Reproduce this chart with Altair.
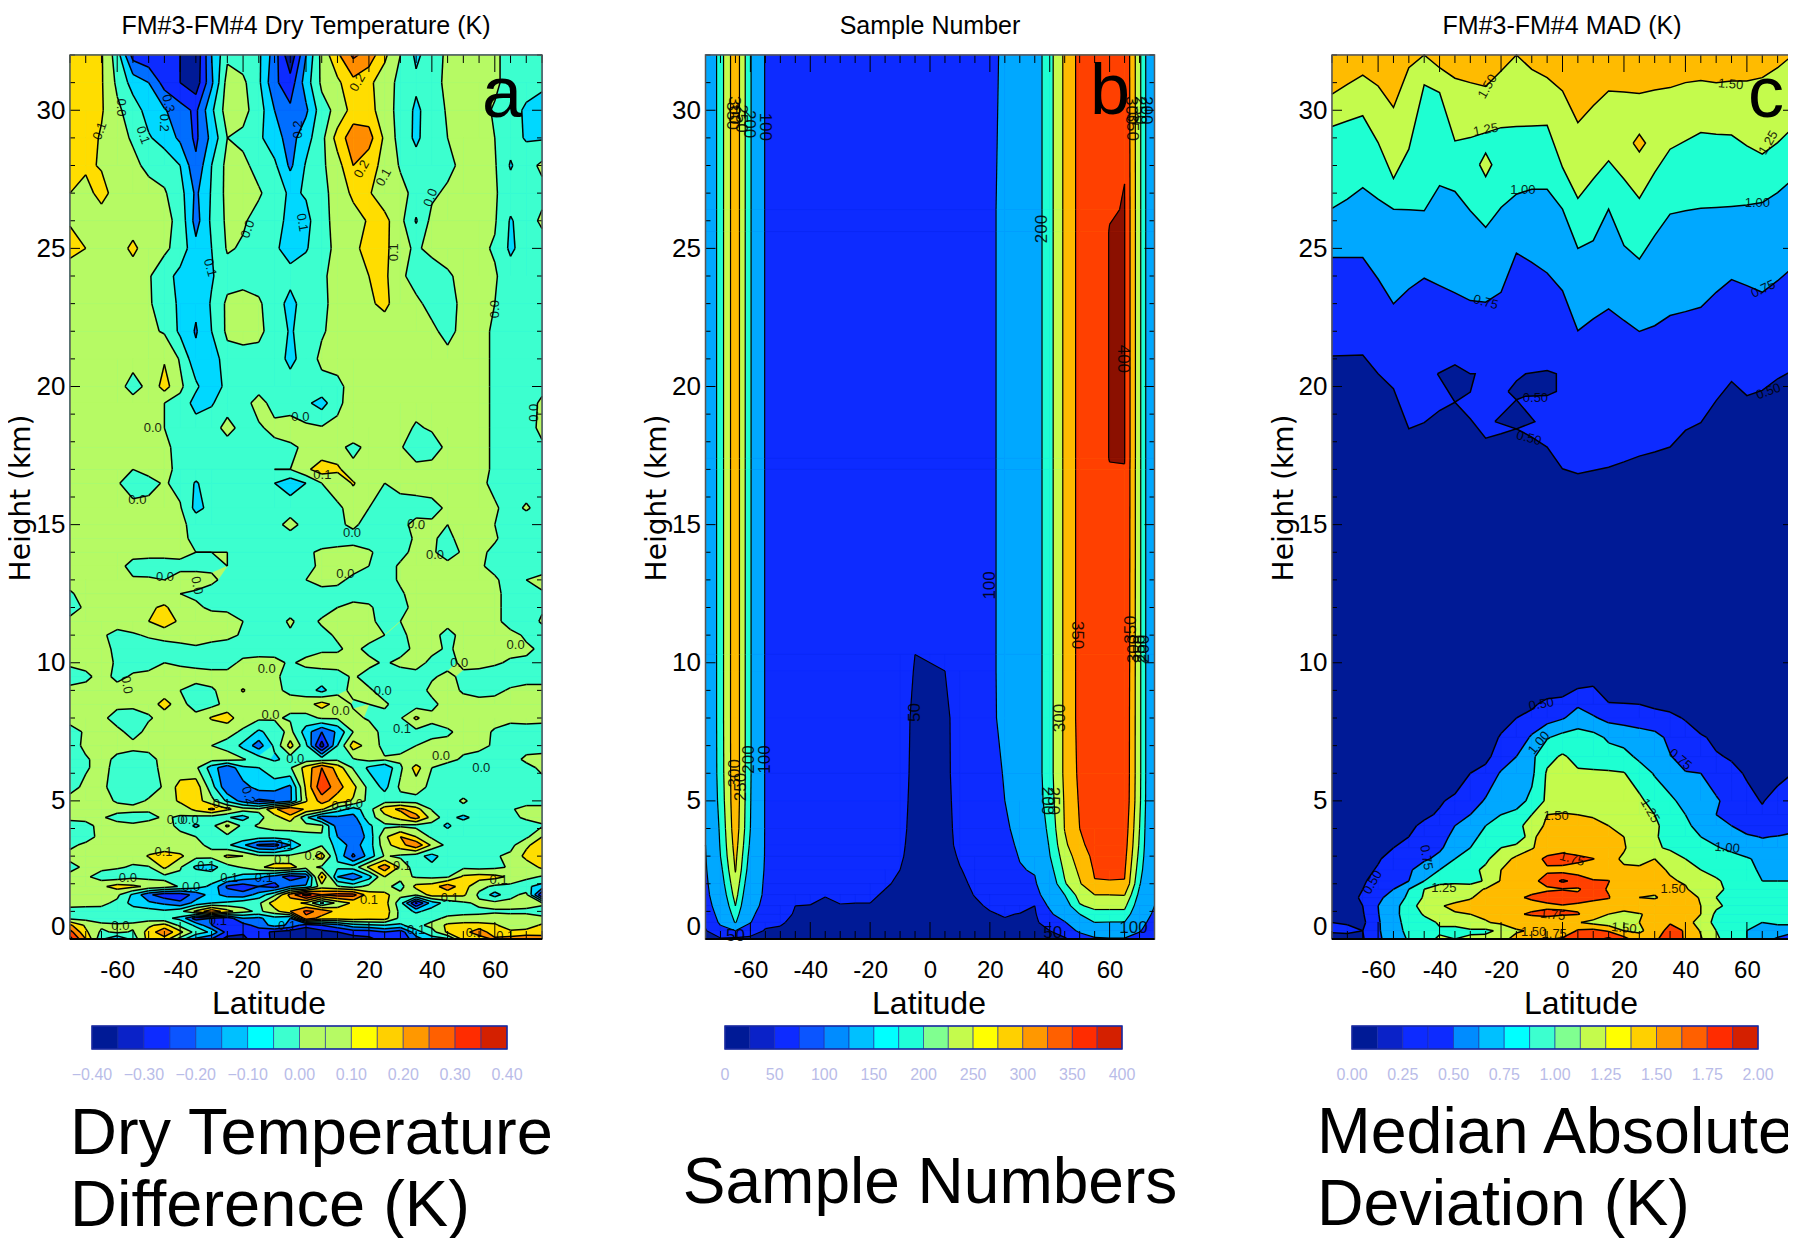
import altair as alt
import pandas as pd

alt.data_transformers.disable_max_rows()

W, H = 1780, 1230
SANS = "Liberation Sans, sans-serif"

LATS = list(range(-75, 80, 5))

# ---------- panel a : dry temperature difference, in hundredths of a kelvin ----------
A_HEIGHTS = [32,31,30,29,28,27,26,25,24,23,22,21,20,19.4,18.5,17.8,17,16.5,15.6,15,14.5,14,13.5,13,12.5,12,11.5,11,10.5,10,
             9.5,9,8.5,8,7.5,7,6.5,6.2,5.5,5,4.7,4.4,4.1,3.7,3.4,3,2.6,2.25,1.9,1.6,1.3,1,.75,.5,.25,0]
A_ROWS = [
[15,15,11,-5,-34,-38,-38,-40,-48,-20,-2,-5,-8,-25,-48,-20,3,18,32,26,12,0,-12,-5,2,3,3,2,-4,-5,-5],
[15,15,11,-2,-14,-20,-34,-40,-46,-22,4,2,-8,-28,-36,-15,2,8,17,12,5,-3,-8,-5,3,3,3,2,-4,-5,-8],
[15,14,11,2,-5,-14,-19,-26,-32,-12,5,3,-5,-20,-28,-22,-4,3,14,14,4,-3,-12,-5,1,4,3,-1,-5,-12,-14],
[20,14,9,3,-1,-9,-14,-22,-32,-17,0,-2,-8,-16,-24,-14,-3,14,26,24,8,-4,-12,-4,0,3,3,0,-6,-11,-11],
[14,12,9,4,2,-2,-4,-10,-28,-10,3,2,-3,-8,-22,-9,-2,6,20,14,7,-1,-6,-6,-3,3,3,1,-11,-4,2],
[10,6,14,5,4,3,1,-6,-22,-9,3,2,1,-4,-12,-9,-3,4,12,11,4,3,-3,-2,2,4,3,1,-5,-7,-3],
[9,5,4,4,3,3,3,-3,-24,-8,2,1,-3,-6,-13,-13,-3,3,6,11,13,3,-11,3,4,3,2,1,-11,-5,2],
[14,10,5,4,13,3,2,-4,-17,-10,1,-1,-3,-8,-15,-11,-3,2,8,13,13,2,-1,2,3,3,2,-1,-12,-5,-5],
[3,4,4,3,3,1,-6,-13,-16,-11,-4,-3,-3,-6,-6,-4,-1,2,5,10,12,2,-4,-4,-1,2,3,1,-5,-5,-5],
[3,3,3,3,3,1,-4,-12,-18,-9,2,3,1,-4,-14,-4,-2,3,4,8,13,3,2,-3,-3,2,3,0,-5,-5,-5],
[3,3,3,3,3,2,-1,-12,-21,-10,2,3,2,-4,-11,-6,-1,3,10,4,3,3,3,2,-3,3,2,-1,-5,-5,-5],
[3,3,3,3,3,3,9,-1,-17,-16,-4,-3,-3,-4,-13,-5,2,3,3,3,3,3,3,3,3,3,2,-1,-5,-5,-5],
[3,3,3,3,-3,2,14,2,-8,-18,-6,-5,-3,-3,-5,-4,-3,-2,3,3,3,3,3,3,3,3,2,-1,-5,-5,-3],
[3,3,3,3,3,3,0,-3,-14,-11,-4,-3,3,-3,-3,-8,-14,-3,6,3,3,3,3,3,3,3,2,-1,-5,-5,2],
[3,3,3,3,1,0,0,-1,-5,-4,3,-3,-1,2,3,2,1,3,10,8,3,3,-1,1,2,3,2,-1,-5,-5,3],
[3,3,3,3,3,3,2,-3,-4,-4,-4,-4,-3,-2,-1,1,3,3,-3,3,3,1,-6,-4,2,3,2,-1,-5,-5,-2],
[3,3,3,3,0,3,3,-3,-5,-4,-4,-4,-2,0,0,8,15,12,3,3,3,3,3,3,3,3,2,-1,-3,-3,-1],
[3,3,3,1,-5,-3,1,-3,-11,-5,-4,-4,-3,-10,-16,-10,0,3,11,3,0,3,3,3,3,3,2,-2,-5,-4,-3],
[3,3,3,3,3,3,3,1,-13,-7,-4,-4,-4,-4,-4,-4,-3,-1,2,0,-4,-4,-3,-2,1,3,3,1,-3,1,-3],
[3,3,3,3,3,3,3,2,-3,-4,-4,-4,-4,-3,3,-3,-2,-1,1,-2,-4,-2,2,1,0,3,3,0,-4,-5,-5],
[3,3,3,3,3,3,3,2,-2,-4,-4,-4,-4,-4,-4,-4,-3,-3,-2,-4,-4,-3,1,1,-2,3,3,1,-4,-5,-5],
[3,3,3,3,3,3,3,2,0,0,0,-3,-4,-4,-4,-1,1,2,2,1,-3,-2,2,1,-3,1,2,-2,-5,-5,-5],
[3,3,3,3,-3,-4,-4,-2,-2,-2,0,-3,-4,-4,-4,-3,2,3,3,0,-3,1,3,3,2,1,1,-2,-5,-2,-5],
[3,3,3,3,1,1,0,3,3,2,-3,-4,-4,-4,-4,0,3,2,-2,-3,-3,1,3,3,0,0,1,1,-3,0,3],
[-1,3,3,3,3,3,2,0,-1,-4,-4,-4,-4,-4,-4,-4,-3,-3,-3,-3,-3,-1,3,2,1,1,0,2,-3,-5,-1],
[-5,2,3,3,3,8,12,3,1,-1,-1,-3,-3,-4,-3,-4,-3,0,2,1,-3,-2,2,3,1,3,2,2,-3,-5,-1],
[3,3,3,3,5,10,16,8,3,3,2,0,-3,-3,1,-3,1,3,3,2,-3,0,3,3,3,3,3,2,-3,-4,1],
[3,3,1,-2,-1,1,3,4,3,3,2,-1,-3,-3,-1,-3,-2,1,3,3,0,-2,3,3,-3,3,3,3,2,-1,-4],
[3,3,3,-2,-3,-4,-4,-3,-1,-3,-4,-4,-4,-3,-3,-3,-1,-1,2,-2,-4,-3,2,2,-1,2,3,3,2,1,-1],
[2,3,3,-1,-3,-4,0,-1,-2,-3,-3,2,3,2,-1,2,3,3,3,2,-1,2,3,-2,-3,2,3,1,-1,-1,-1],
[-5,-2,3,-2,1,3,3,3,3,3,3,3,2,1,-2,-4,-4,-3,1,-3,-4,-4,-3,-1,2,-2,-4,-4,-4,-4,-4],
[3,3,3,3,3,3,3,0,-3,-1,3,11,3,1,-1,-5,-13,-3,2,1,-3,-4,-4,2,3,-1,-3,-2,1,3,3],
[3,3,3,3,3,3,15,3,-4,-3,3,3,3,3,2,6,14,6,-1,0,1,-3,-5,-2,3,3,3,3,3,3,3],
[3,3,3,-5,-6,-1,3,3,3,11,15,3,2,1,-1,-3,1,1,2,-1,-2,-1,12,2,3,3,3,3,3,3,3],
[-3,1,3,3,-4,3,4,3,3,3,2,-1,-12,-5,3,-15,-30,-18,0,4,-3,-4,-3,-3,-1,2,3,-1,-5,-4,-5],
[-4,2,3,3,3,3,3,3,2,0,-2,-13,-25,-8,14,-8,-45,-10,15,6,-3,-3,0,3,2,2,2,-1,-4,-4,-4],
[-5,-1,3,-2,-5,-3,3,3,3,3,3,1,-5,-12,-6,-5,-4,-2,-1,3,1,2,3,2,2,-1,-3,-4,-4,2,3],
[-5,-1,3,-3,-5,-4,3,3,2,-15,-28,-12,-10,-2,-1,14,30,16,-1,-12,-18,-2,14,0,-3,-4,-3,-4,-4,-3,2],
[-3,2,2,-4,-5,-4,1,14,16,-6,-28,-24,-16,-16,-22,12,38,24,13,-3,-13,2,5,-3,-4,-4,-4,-4,-4,-4,-4],
[3,3,3,-1,-3,1,3,12,15,3,-12,-24,-32,-30,-22,9,24,15,9,-3,-4,-4,-4,-4,-3,1,-3,-4,-4,-4,-4],
[3,3,3,3,3,1,2,3,13,22,12,4,2,18,30,18,12,-5,-14,-5,16,22,14,-1,-3,-2,-3,-2,-1,3,3],
[3,3,1,-3,-5,-2,1,-1,-3,-5,-9,-14,-3,6,16,-8,-25,-22,-24,-4,6,14,24,6,-6,-13,-5,-3,-3,2,3],
[-5,-3,3,3,2,3,3,-2,-12,-3,12,-3,1,4,4,3,2,-25,-28,-12,-2,-2,-3,-4,-12,-3,-4,-6,-4,-5,-1],
[-5,-4,3,3,3,3,3,2,0,-1,-3,-3,-5,-6,-5,-2,-1,-20,-30,-16,8,20,10,-2,-4,-4,-4,-4,-4,-2,10],
[-2,2,3,3,3,3,3,3,2,-2,-8,-18,-32,-34,-20,-5,-1,-14,-24,-15,6,16,28,8,-3,-4,-4,-4,-3,8,16],
[3,3,3,3,3,11,15,12,3,3,12,10,2,2,2,3,15,-12,-32,-16,1,-2,-6,-14,-4,-2,-1,-1,2,13,18],
[-3,2,3,1,-1,-1,12,1,-12,-14,-4,1,8,14,14,4,-2,-8,-6,12,26,8,-6,-7,-3,-2,-3,-2,1,4,12],
[3,2,-5,-5,-2,-3,-3,-2,-3,-5,-8,-14,-18,-24,-36,-30,22,-20,-28,-14,10,3,-1,-2,-1,12,14,13,8,3,-1],
[3,1,8,14,12,8,5,-1,-6,-12,-32,-36,-30,-34,-20,-18,6,1,-4,3,3,-4,13,15,26,14,3,-2,-3,-8,-14],
[3,3,3,2,-12,-28,-36,-36,-26,-16,-24,-26,-16,-2,24,45,30,34,34,14,13,3,1,14,13,12,-2,-14,-3,3,-40],
[2,3,2,-2,-14,-18,-22,-28,-16,-10,-8,-4,-2,16,14,8,-12,3,12,14,14,-6,-42,-15,-6,-2,2,3,3,2,1],
[-2,-4,-3,-3,-4,-6,-8,-3,12,28,14,3,-2,6,20,32,28,16,14,14,16,-3,-12,-6,-4,-3,-2,-1,-1,-1,-2],
[-3,-3,-4,-4,-4,-5,-8,-12,-36,-30,-36,-20,-22,-14,-20,28,15,14,15,14,14,-3,-4,-3,2,3,3,3,2,2,1],
[22,8,2,1,2,8,14,-3,-12,-30,-34,-34,-26,-16,-22,-36,-30,-24,-14,-12,-10,-12,-3,3,12,14,14,12,2,3,12],
[34,12,-2,2,-1,14,28,13,-4,-12,-34,-38,-36,-42,-46,-48,-44,-40,-36,-36,-30,-36,-14,-4,12,16,26,14,13,15,16],
[44,20,-8,-20,-6,14,16,-4,-22,-30,-44,-44,-30,-44,-50,-50,-48,-44,-44,-42,-36,-38,-24,-14,-12,14,14,22,24,26,24],
]
A_LEVELS = [-40,-30,-20,-10,0,10,20,30,40]
A_COLORS = ["#001a96","#0d2bff","#006eff","#00d8ff","#3cffcf","#b6fa64","#ffdd00","#ff8c00","#ff4000","#8b1000"]

# ---------- panel b : sample number (columns by latitude) ----------
B_HEIGHTS = [32,26.4,25.6,17.4,17,10.3,9.7,8,6,5,4,3.4,3,2.5,2,1.6,1.2,.9,.6,.3,0]
B_COLS = [
[120,120,120,120,120,120,120,120,120,118,108,100,97,92,85,80,72,65,57,47,30],
[228,228,228,228,228,228,228,228,226,220,210,205,200,185,170,155,135,120,108,85,45],
[335,335,335,335,335,335,335,335,335,335,330,320,312,303,285,270,250,228,205,100,40],
[205,205,205,205,205,205,205,205,205,203,200,190,180,168,150,135,122,110,102,75,38],
[95,95,95,95,95,95,95,95,95,95,95,95,95,93,90,90,85,78,62,46,30],
[80,80,80,80,80,80,80,80,80,80,80,80,80,78,75,72,68,62,54,45,30],
[75,75,75,75,75,75,75,75,75,75,75,75,75,73,70,62,50,47,42,35,25],
[75,75,75,75,75,75,75,75,75,75,75,75,75,72,68,60,49,45,42,35,25],
[75,75,75,75,75,75,75,75,75,75,75,75,74,68,60,51,46,44,41,35,25],
[75,75,75,75,75,75,75,75,75,75,75,75,72,66,60,55,49,46,42,35,25],
[75,75,75,75,75,75,75,75,75,75,75,75,72,66,58,53,49,46,42,35,25],
[75,75,75,75,75,75,75,75,75,75,75,75,72,65,58,53,49,46,42,35,25],
[75,75,75,75,75,75,75,75,75,75,75,72,64,56,52,48,45,44,41,35,25],
[75,75,75,75,75,75,74,70,68,66,63,59,56,50,47,45,43,41,39,33,25],
[75,75,75,75,75,50,47,40,38,36,34,33,32,31,30,30,30,29,28,26,22],
[75,75,75,75,75,52,48,40,38,36,34,33,32,31,30,30,30,29,28,26,22],
[75,75,75,75,75,55,50,42,40,38,36,34,33,32,31,30,30,29,28,26,22],
[80,80,80,80,80,72,70,66,68,66,64,62,55,48,44,42,40,38,36,32,24],
[85,85,85,85,85,82,80,78,76,75,73,71,68,62,55,51,46,43,40,34,25],
[93,93,93,93,93,93,93,92,85,83,80,78,75,72,68,60,53,48,44,36,26],
[105,110,110,110,110,110,110,110,103,100,92,85,78,72,65,60,55,52,47,40,28],
[135,135,135,135,135,135,135,135,132,125,115,108,103,96,85,75,60,49,45,40,30],
[170,170,170,170,170,170,170,170,170,165,150,135,120,105,92,78,50,46,42,38,30],
[232,232,232,232,232,232,232,232,232,228,215,205,198,180,158,135,110,88,72,50,35],
[310,310,310,310,310,310,310,310,310,305,302,290,275,260,245,200,170,140,95,70,45],
[365,365,365,365,365,365,365,365,360,355,350,340,325,310,295,270,245,200,150,110,70],
[385,385,385,385,385,385,385,385,383,380,375,368,362,355,347,300,262,235,200,140,90],
[398,398,401,401,398,395,395,394,392,388,382,375,368,358,347,300,262,235,198,140,95],
[395,401,401,401,399,396,395,393,392,390,380,372,365,356,347,302,262,235,198,145,95],
[262,262,262,262,262,262,262,262,262,260,250,243,235,222,205,185,165,145,125,105,75],
[112,112,112,112,112,112,112,112,112,112,112,112,112,112,112,108,100,88,72,60,50],
]
B_LEVELS = [50,100,200,250,300,350,400]
B_COLORS = ["#001a96","#0d2bff","#00a8ff","#1effd2","#c4fb4c","#ffbb00","#ff4000","#8b1000"]

# ---------- panel c, lower dome : MAD in hundredths of a kelvin ----------
C_HEIGHTS = [32,9.2,8.5,8,7.3,6.6,6,5,4.5,4.1,3.7,3.3,2.9,2.5,2.1,1.8,1.5,1.2,.9,.6,.3,0]
C_ROWS = [
[30]*31,
[30,30,30,30,30,30,30,30,30,30,30,30,30,30,30,30,45,49,30,30,30,30,30,30,30,30,30,30,30,30,30],
[30,30,30,30,30,30,30,30,30,30,30,30,40,45,58,62,72,62,52,51,50,45,42,35,30,30,30,30,30,30,30],
[30,30,30,30,30,30,30,30,30,30,30,42,50,58,65,73,85,78,68,66,64,60,56,48,35,30,30,30,30,30,30],
[30,30,30,30,30,30,30,30,30,30,40,52,60,78,98,108,112,108,96,90,85,82,70,62,53,45,30,30,30,30,30],
[30,30,30,30,30,30,30,30,30,35,46,58,75,95,118,128,118,115,110,108,95,85,76,68,60,52,48,35,30,30,35],
[30,30,30,30,30,30,30,30,38,50,55,78,85,95,128,130,128,128,128,126,112,98,85,76,75,62,55,48,42,45,50],
[30,30,30,30,30,30,35,48,54,60,78,85,92,105,130,135,135,138,136,134,130,115,105,92,82,78,66,55,49,56,62],
[30,30,30,30,30,40,47,52,62,75,95,100,105,125,150,152,150,148,145,140,132,125,112,100,88,75,68,60,53,60,65],
[30,30,30,30,35,47,53,58,75,85,100,110,118,135,155,160,158,155,150,140,135,128,118,105,92,82,75,65,58,62,66],
[30,30,30,30,40,50,58,68,80,92,108,118,105,140,175,165,160,158,155,150,138,128,115,108,100,92,85,78,74,76,80],
[30,30,35,42,50,56,65,72,85,100,112,125,135,148,162,162,160,155,152,153,130,128,122,112,105,102,95,88,82,80,82],
[30,35,40,48,58,66,72,80,100,108,120,140,155,165,180,190,182,176,160,145,140,150,135,125,118,112,108,102,95,88,85],
[30,36,44,52,65,72,85,100,105,118,130,150,160,168,172,165,162,150,152,155,156,155,148,140,125,118,110,105,97,92,90],
[32,38,48,56,68,75,100,118,120,115,128,152,160,170,182,205,190,178,176,158,156,152,152,148,135,128,118,112,100,100,100],
[35,42,50,60,75,100,125,135,135,140,152,162,165,170,172,173,172,188,172,152,150,155,152,152,140,130,120,115,105,105,105],
[35,45,52,70,85,105,128,140,142,148,160,165,172,178,185,198,182,178,177,155,150,148,158,160,148,125,115,108,105,105,105],
[38,44,50,75,90,115,135,148,155,158,162,165,168,168,170,172,172,170,160,158,170,162,158,155,150,130,118,108,105,105,105],
[40,45,48,74,95,108,128,142,148,150,155,162,172,178,182,178,176,168,150,145,148,158,156,154,150,120,110,105,103,104,105],
[50,48,45,72,95,105,115,128,135,140,148,155,160,160,158,155,152,142,135,140,150,160,172,155,145,115,105,100,100,102,104],
[55,55,50,72,92,105,120,122,115,122,120,130,148,152,155,150,178,182,172,150,148,155,188,172,148,125,105,100,98,95,90],
[35,40,48,70,90,102,118,128,125,128,132,145,155,172,172,180,188,192,205,185,155,170,190,172,152,130,110,100,90,70,40],
]
C_LEVELS = [50,75,100,125,150,175,200]
C_COLORS = ["#001a96","#0d2bff","#00a8ff","#1effd2","#c4fb4c","#ffbb00","#ff4000","#8b1000"]

# panel c, upper part: height (km) of each contour at each latitude
C_LINE_50 = [21.1,21.12,21.14,20.46,19.92,18.47,18.69,19.13,19.43,18.83,18.13,18.29,18.47,18.17,17.81,17.02,16.84,16.96,17.08,17.27,17.48,17.63,17.81,18.41,18.69,19.49,20.18,19.67,19.86,20.28,20.58]
C_LINE_75 = [24.67,24.67,24.67,23.89,22.99,23.53,23.92,23.65,23.39,23.11,23.05,23.41,24.83,24.49,24.11,23.47,22.02,22.45,22.81,22.39,21.99,22.2,22.57,22.71,22.87,23.41,23.87,23.65,23.41,23.83,24.31]
C_LINE_100 = [26.45,26.78,27.2,26.78,26.42,26.4,26.36,27.27,27.06,26.36,25.76,26.48,26.96,27.14,27.14,26.42,25,25.28,26.42,25.1,24.61,25.46,26.24,26.36,26.45,26.48,26.52,26.57,26.66,27.02,27.51]
C_LINE_125 = [29.41,29.61,29.8,28.83,27.53,28.59,30.92,30.64,28.89,29.01,29.19,29.37,29.41,29.43,29.46,27.93,26.81,27.51,28.17,27.51,26.81,27.75,28.59,28.89,29.19,29.13,29.1,28.71,28.41,28.83,29.37]
C_LINE_150 = [30.58,30.94,31.27,30.88,30.1,31.54,32,31.54,31.16,31,30.86,31.42,32,31.48,31.18,30.7,29.55,30.16,30.7,30.66,30.61,30.73,30.82,31,31.08,31,31.06,31.06,31.18,31.54,32]
C_BANDS = [(C_LINE_50,C_LINE_75,"#0d2bff"),(C_LINE_75,C_LINE_100,"#00a8ff"),(C_LINE_100,C_LINE_125,"#1effd2"),
           (C_LINE_125,C_LINE_150,"#c4fb4c"),(C_LINE_150,[32]*31,"#ffbb00")]
# closed pockets: (latitudes, upper height, lower height, colour)
C_POCKETS = [
 ([-40.7,-35,-30,-28.4],[20.46,20.78,20.46,20.46],[20.46,19.43,19.8,20.46],"#001a96"),
 ([-17.7,-15,-12,-5,-2],[19.82,20.2,20.46,20.58,20.46],[19.82,19.52,19.65,19.67,19.82],"#001a96"),
 ([-22,-15,-9],[18.73,19.52,18.73],[18.73,18.46,18.73],"#001a96"),
 ([-27,-25,-23],[28.03,28.45,28.03],[28.03,27.6,28.03],"#c4fb4c"),
 ([23,25,27],[28.81,29.13,28.81],[28.81,28.49,28.81],"#ffbb00"),
]

# ---------- colour bars ----------
A_BAR = ["#001a96","#0a22c8","#0d2bff","#0b55ff","#008cff","#00c0ff","#00ffff","#3cffcf","#b6fa64","#b6fa64","#ffff00","#ffd000","#ff9800","#ff6000","#ff2c00","#d42000"]
B_BAR = ["#001a96","#0a22c8","#0d2bff","#0b55ff","#008cff","#00c0ff","#00ffff","#20ffd8","#80ff90","#c4fb4c","#ffff00","#ffd000","#ff9800","#ff6000","#ff2c00","#d42000"]
C_BAR = ["#001a96","#0a22c8","#0d2bff","#0d2bff","#008cff","#00c0ff","#00ffff","#3cffcf","#80ff90","#c4fb4c","#ffff00","#ffd000","#ff9800","#ff6000","#ff2c00","#d42000"]
A_BAR_TICKS = ["\u22120.40","\u22120.30","\u22120.20","\u22120.10","0.00","0.10","0.20","0.30","0.40"]
B_BAR_TICKS = ["0","50","100","150","200","250","300","350","400"]
C_BAR_TICKS = ["0.00","0.25","0.50","0.75","1.00","1.25","1.50","1.75","2.00"]

# ---------- contour labels: latitude, height, text, angle ----------
A_LABELS = [
(-58.7,30.1,"0.0",90),(-65.5,29.25,"0.1",290),(-51.8,29.1,"0.1",70),(-45,29.55,"0.2",90),(-43.8,30.25,"0.3",75),
(-2.7,29.3,"0.2",270),(16.4,31,"0.2",300),(17.7,27.87,"0.2",300),(24.7,27.57,"0.1",300),(39.6,26.84,"0.0",290),
(-18.5,25.7,"0.0",290),(-1.2,25.94,"0.1",80),(28,24.86,"0.1",270),(-30.5,24.3,"0.1",75),(60,22.8,"0.0",270),
(-48.7,18.5,"0.0",0),(-1.8,18.9,"0.0",0),(5.2,16.8,"0.1",0),(-53.6,15.9,"0.0",0),(14.6,14.7,"0.0",0),(35,15,"0.0",5),
(41,13.9,"0.0",0),(-44.8,13.1,"0.0",0),(-34.7,12.8,"0.0",80),(12.5,13.2,"0.0",0),(66.6,10.66,"0.0",0),(72.5,19.05,"0.0",270),
(-12.5,9.76,"0.0",0),(48.7,10,"0.0",0),(-57,9.2,"0.0",80),(24.4,8.96,"0.0",0),(11,8.26,"0.0",0),(-11.3,8.1,"0.0",0),
(30.5,7.6,"0.1",0),(42.9,6.64,"0.0",0),(55.7,6.18,"0.0",0),(-3.4,6.5,"0.0",0),(-26.8,4.88,"0.1",0),(-18.3,5.2,"0.2",70),
(-41.4,4.3,"0.0",0),(-37,4.3,"0.0",0),(11,4.8,"0.1",0),(15.2,4.9,"0.0",0),(-45.3,3.14,"0.1",0),(-6.7,3.4,"0.1",0),
(2.4,3,"0.0",0),(-31.7,2.66,"0.1",0),(30.5,2.66,"0.1",0),(-7.3,2.85,"0.1",0),(-56.6,2.2,"0.0",0),(-24.4,2.2,"0.1",0),
(-13.4,2.2,"0.1",0),(61.2,2.15,"0.1",0),(20,1.42,"0.1",0),(45.7,1.48,"0.1",0),(-36.5,1.9,"0.0",0),(-59,.46,"0.0",0),
(-28,.64,"0.1",0),(-6,.46,"0.1",0),(35,.34,"0.1",0),(53.6,.22,"0.1",0),(63.3,.1,"0.1",0),
]
B_LABELS = [
(-55,29.4,"100",90),(-60.5,29.5,"200",90),(-63,29.7,"250",90),(-65.5,30,"300",90),(-66,29.8,"350",90),
(-55,6.5,"100",270),(-60.5,6.5,"200",270),(-63,5.5,"250",270),(-65,6,"300",270),
(37.5,25.7,"200",270),(20,12.8,"100",270),(-5,8.2,"50",270),(43.5,8,"300",270),(41,5,"250",90),(39,5,"200",90),
(49,11,"350",90),(67,11.2,"350",270),(68,10.5,"300",270),(70,10.5,"250",270),(71.5,10.5,"200",270),
(67.5,29.4,"350",90),(67,30,"300",90),(70,30,"250",90),(72,30,"200",90),(64.5,21,"400",90),
(-65,.1,"50",0),(41,.2,"50",0),(68,.4,"100",0),
]
C_LABELS = [
(-24.4,30.86,"1.50",300),(54.7,30.94,"1.50",5),(-25,29.29,"1.25",350),(67,28.83,"1.25",300),(-12.9,27.12,"1.00",0),
(63.4,26.66,"1.00",0),(-25,23.05,"0.75",15),(65.3,23.53,"0.75",335),(-8.8,19.6,"0.50",0),(-11,18.13,"0.50",15),
(67,19.82,"0.50",340),(-6.9,8.5,"0.50",350),(-7.7,7.1,"1.00",310),(38.3,6.5,"0.75",40),(28.5,4.64,"1.25",60),
(-2.1,4.46,"1.50",0),(-44.3,2.95,"0.75",80),(-61.8,2.05,"0.50",300),(3.1,2.9,"1.75",15),(53.6,3.3,"1.00",5),
(-38.6,1.83,"1.25",0),(36,1.8,"1.50",0),(-3.2,.87,"1.75",5),(-9.4,.24,"1.50",0),(-2.7,.18,"1.75",0),(20,.39,"1.50",5),
]

LAT_TICKS = [-60,-40,-20,0,20,40,60]
HEIGHT_TICKS = [0,5,10,15,20,25,30]
LAT_MINOR = LATS
HEIGHT_MINOR = list(range(0,33))

TOP, BOTTOM = 55, 939


def px(v):
    return v - 8


def clip(corners, level):
    out = []
    n = len(corners)
    for i in range(n):
        a, b = corners[i], corners[(i + 1) % n]
        if a[2] >= level:
            out.append((a[0], a[1]))
        if (a[2] >= level) != (b[2] >= level):
            t = (level - a[2]) / (b[2] - a[2])
            out.append((a[0] + t * (b[0] - a[0]), a[1] + t * (b[1] - a[1])))
    return out


def contour(lats, heights, rows, levels, colors):
    polys = []
    segs = []
    polys.append(([(lats[0], heights[0]), (lats[-1], heights[0]), (lats[-1], heights[-1]), (lats[0], heights[-1])], colors[0]))
    for k, level in enumerate(levels):
        for j in range(len(heights) - 1):
            run = None
            for i in range(len(lats) - 1):
                c = [(lats[i], heights[j], rows[j][i]), (lats[i + 1], heights[j], rows[j][i + 1]),
                     (lats[i + 1], heights[j + 1], rows[j + 1][i + 1]), (lats[i], heights[j + 1], rows[j + 1][i])]
                full = all(p[2] >= level for p in c)
                if full:
                    run = i if run is None else run
                    continue
                if run is not None:
                    polys.append(([(lats[run], heights[j]), (lats[i], heights[j]), (lats[i], heights[j + 1]), (lats[run], heights[j + 1])], colors[k + 1]))
                    run = None
                if any(p[2] >= level for p in c):
                    polys.append((clip(c, level), colors[k + 1]))
                    pts = []
                    for q in range(4):
                        a, b = c[q], c[(q + 1) % 4]
                        if (a[2] >= level) != (b[2] >= level):
                            t = (level - a[2]) / (b[2] - a[2])
                            pts.append((a[0] + t * (b[0] - a[0]), a[1] + t * (b[1] - a[1])))
                    for q in range(0, len(pts) - 1, 2):
                        segs.append((pts[q], pts[q + 1]))
            if run is not None:
                polys.append(([(lats[run], heights[j]), (lats[-1], heights[j]), (lats[-1], heights[j + 1]), (lats[run], heights[j + 1])], colors[k + 1]))
    fill_rows = []
    for pid, (poly, col) in enumerate(polys):
        for s, (x, y) in enumerate(poly + [poly[0]]):
            fill_rows.append({"lat": round(x, 2), "h": round(y, 3), "pid": pid, "s": s, "c": col})
    seg_rows = [{"lat": round(a[0], 2), "h": round(a[1], 3), "lat2": round(b[0], 2), "h2": round(b[1], 3)} for a, b in segs]
    return pd.DataFrame(fill_rows), pd.DataFrame(seg_rows)


def panel(left, right, label_rows, fill_df=None, seg_df=None, extra=None, lw=1.5, label_size=13):
    xs = alt.Scale(domain=[-75, 75], range=[px(left), px(right)], nice=False, zero=False)
    ys = alt.Scale(domain=[0, 32], range=[px(BOTTOM), px(TOP)], nice=False, zero=False)
    X = lambda f: alt.X(f, type="quantitative", scale=xs, axis=None)
    Y = lambda f: alt.Y(f, type="quantitative", scale=ys, axis=None)
    layers = []
    if fill_df is not None:
        layers.append(alt.Chart(fill_df).mark_line(strokeWidth=0.5, interpolate="linear").encode(
            x=X("lat"), y=Y("h"), detail="pid:N", order=alt.Order("s:Q"),
            fill=alt.Fill("c:N", scale=None), stroke=alt.Stroke("c:N", scale=None)))
    if extra:
        layers += extra(X, Y)
    if seg_df is not None:
        layers.append(alt.Chart(seg_df).mark_rule(color="#000000", strokeWidth=lw).encode(
            x=X("lat"), y=Y("h"), x2="lat2", y2="h2"))
    lab = pd.DataFrame(label_rows, columns=["lat", "h", "t", "a"])
    for ang, g in lab.groupby("a"):
        layers.append(alt.Chart(g).mark_text(font=SANS, fontSize=label_size, color="#000000", angle=int(ang), opacity=.85).encode(
            x=X("lat"), y=Y("h"), text="t:N"))
    # tick marks inside the frame
    lat_t = pd.DataFrame({"lat": LAT_MINOR})
    lat_t["major"] = lat_t.lat.isin(LAT_TICKS)
    h_t = pd.DataFrame({"h": HEIGHT_MINOR})
    h_t["major"] = h_t.h.isin(HEIGHT_TICKS)
    for major, ln_x, ln_y in ((False, 8, 5), (True, 17, 10)):
        d = lat_t[lat_t.major == major]
        e = h_t[h_t.major == major]
        layers.append(alt.Chart(d).mark_rule(color="#000000", strokeWidth=1).encode(
            x=X("lat"), y=alt.value(px(TOP)), y2=alt.value(px(TOP + ln_x))))
        layers.append(alt.Chart(d).mark_rule(color="#000000", strokeWidth=1).encode(
            x=X("lat"), y=alt.value(px(BOTTOM)), y2=alt.value(px(BOTTOM - ln_x))))
        layers.append(alt.Chart(e).mark_rule(color="#000000", strokeWidth=1).encode(
            y=Y("h"), x=alt.value(px(left)), x2=alt.value(px(left + ln_y))))
        layers.append(alt.Chart(e).mark_rule(color="#000000", strokeWidth=1).encode(
            y=Y("h"), x=alt.value(px(right)), x2=alt.value(px(right - ln_y))))
    # axes: labels only
    xaxis = alt.Axis(values=LAT_TICKS, ticks=False, domain=False, grid=False, title=None, orient="bottom",
                     offset=px(BOTTOM) - H, labelFont=SANS, labelFontSize=24, labelColor="#000000",
                     labelPadding=19, labelOverlap=False, labelExpr="toString(datum.value)")
    yaxis = alt.Axis(values=HEIGHT_TICKS, ticks=False, domain=False, grid=False, title=None, orient="left",
                     offset=-px(left), labelFont=SANS, labelFontSize=26, labelColor="#000000",
                     labelPadding=5, labelFlush=True, labelOverlap=False, format="d")
    layers.append(alt.Chart(lat_t).mark_point(opacity=0).encode(
        x=alt.X("lat", type="quantitative", scale=xs, axis=xaxis), y=alt.value(0)))
    layers.append(alt.Chart(h_t).mark_point(opacity=0).encode(
        y=alt.Y("h", type="quantitative", scale=ys, axis=yaxis), x=alt.value(0)))
    # frame
    one = alt.Data(values=[{"k": 1}])
    layers.append(alt.Chart(one).mark_rect(fillOpacity=0, stroke="#555555", strokeWidth=1.5).encode(
        x=alt.value(px(left)), x2=alt.value(px(right)), y=alt.value(px(TOP)), y2=alt.value(px(BOTTOM))))
    layers.append(alt.Chart(one).mark_rule(color="#000000", strokeWidth=2).encode(
        x=alt.value(px(left)), x2=alt.value(px(right)), y=alt.value(px(BOTTOM))))
    return layers


def c_extra(X, Y):
    out = []
    rows = []
    for n, (lo, hi, col) in enumerate(C_BANDS):
        for la, a, b in zip(LATS, lo, hi):
            rows.append({"lat": la, "lo": a, "hi": b, "c": col, "id": n})
    out.append(alt.Chart(pd.DataFrame(rows)).mark_area(strokeWidth=0.4, interpolate="linear").encode(
        x=X("lat"), y=Y("lo"), y2="hi", fill=alt.Fill("c:N", scale=None), stroke=alt.Stroke("c:N", scale=None), detail="id:N"))
    rows = []
    for n, line in enumerate([C_LINE_50, C_LINE_75, C_LINE_100, C_LINE_125, C_LINE_150]):
        for s, (la, a) in enumerate(zip(LATS, line)):
            rows.append({"lat": la, "h": a, "id": n, "s": s})
    rows2 = []
    rows3 = []
    for n, (la, hi, lo, col) in enumerate(C_POCKETS):
        for s, (x, a, b) in enumerate(zip(la, hi, lo)):
            rows2.append({"lat": x, "lo": b, "hi": a, "c": col, "id": n})
        path = list(zip(la, hi)) + list(zip(la[::-1], lo[::-1]))
        for s, (x, a) in enumerate(path):
            rows3.append({"lat": x, "h": a, "id": 100 + n, "s": s})
    out.append(alt.Chart(pd.DataFrame(rows2)).mark_area(interpolate="linear").encode(
        x=X("lat"), y=Y("lo"), y2="hi", fill=alt.Fill("c:N", scale=None), detail="id:N"))
    out.append(alt.Chart(pd.DataFrame(rows + rows3)).mark_line(color="#000000", strokeWidth=1.5, clip=True).encode(
        x=X("lat"), y=Y("h"), detail="id:N", order=alt.Order("s:Q")))
    return out


def colorbar(x0, x1, colors, ticks, dom):
    n = len(colors)
    step = (dom[1] - dom[0]) / n
    d = pd.DataFrame({"lo": [dom[0] + i * step for i in range(n)], "hi": [dom[0] + (i + 1) * step for i in range(n)], "c": colors})
    xs = alt.Scale(domain=dom, range=[px(x0), px(x1)], nice=False, zero=False)
    t = pd.DataFrame({"v": [dom[0] + i * (dom[1] - dom[0]) / (len(ticks) - 1) for i in range(len(ticks))], "t": ticks})
    return [
        alt.Chart(d).mark_rect(stroke="#1a2aa0", strokeWidth=0.6).encode(
            x=alt.X("lo:Q", scale=xs, axis=None), x2="hi", fill=alt.Fill("c:N", scale=None),
            y=alt.value(px(1026)), y2=alt.value(px(1049))),
        alt.Chart(alt.Data(values=[{"k": 1}])).mark_rect(fillOpacity=0, stroke="#1a2aa0", strokeWidth=1.5).encode(
            x=alt.value(px(x0)), x2=alt.value(px(x1)), y=alt.value(px(1026)), y2=alt.value(px(1049))),
        alt.Chart(t).mark_text(font=SANS, fontSize=16, color="#b9bce8").encode(
            x=alt.X("v:Q", scale=xs, axis=None), y=alt.value(px(1075)), text="t:N"),
    ]


def text(s, x, y, size, font=SANS, align="center", angle=0, color="#000000"):
    return alt.Chart(alt.Data(values=[{"k": 1}])).mark_text(
        text=s, font=font, fontSize=size, align=align, baseline="middle", angle=angle, color=color
    ).encode(x=alt.value(px(x)), y=alt.value(px(y)))


a_fill, a_seg = contour(LATS, A_HEIGHTS, A_ROWS, A_LEVELS, A_COLORS)
b_rows = [[col[j] for col in B_COLS] for j in range(len(B_HEIGHTS))]
b_fill, b_seg = contour(LATS, B_HEIGHTS, b_rows, B_LEVELS, B_COLORS)
c_fill, c_seg = contour(LATS, C_HEIGHTS, C_ROWS, C_LEVELS, C_COLORS)

layers = []
layers += panel(70, 542, A_LABELS, a_fill, a_seg)
layers += panel(705.5, 1154.5, B_LABELS, b_fill, b_seg, lw=1.2, label_size=17)
layers += panel(1332, 1793, C_LABELS, c_fill, c_seg, extra=c_extra)
layers += colorbar(92, 507, A_BAR, A_BAR_TICKS, [-0.4, 0.4])
layers += colorbar(725, 1122, B_BAR, B_BAR_TICKS, [0, 400])
layers += colorbar(1352, 1758, C_BAR, C_BAR_TICKS, [0, 2])
layers += [
    text("FM#3-FM#4 Dry Temperature (K)", 306, 26, 25),
    text("Sample Number", 930, 26, 25),
    text("FM#3-FM#4 MAD (K)", 1562, 26, 25),
    text("Latitude", 269, 1004, 32),
    text("Latitude", 929, 1004, 32),
    text("Latitude", 1581, 1004, 32),
    text("Height (km)", 22, 498, 28, "DejaVu Sans", angle=270),
    text("Height (km)", 658, 498, 28, "DejaVu Sans", angle=270),
    text("Height (km)", 1285, 498, 28, "DejaVu Sans", angle=270),
    text("a", 502, 95, 72),
    text("b", 1110, 92, 72),
    text("c", 1766, 95, 72),
    text("Dry Temperature", 70, 1134, 65, align="left"),
    text("Difference (K)", 70, 1206, 65, align="left"),
    text("Sample Numbers", 930, 1184, 64),
    text("Median Absolute", 1317, 1134, 64.5, align="left"),
    text("Deviation (K)", 1317, 1206, 64.5, align="left"),
]

chart = alt.layer(*layers).resolve_scale(x="independent", y="independent").properties(
    width=W, height=H, padding=0, autosize=alt.AutoSizeParams(type="none"),
    background="#ffffff",
).configure_view(stroke=None)

chart.save("out.html", embed_options={"renderer": "svg", "actions": False})
